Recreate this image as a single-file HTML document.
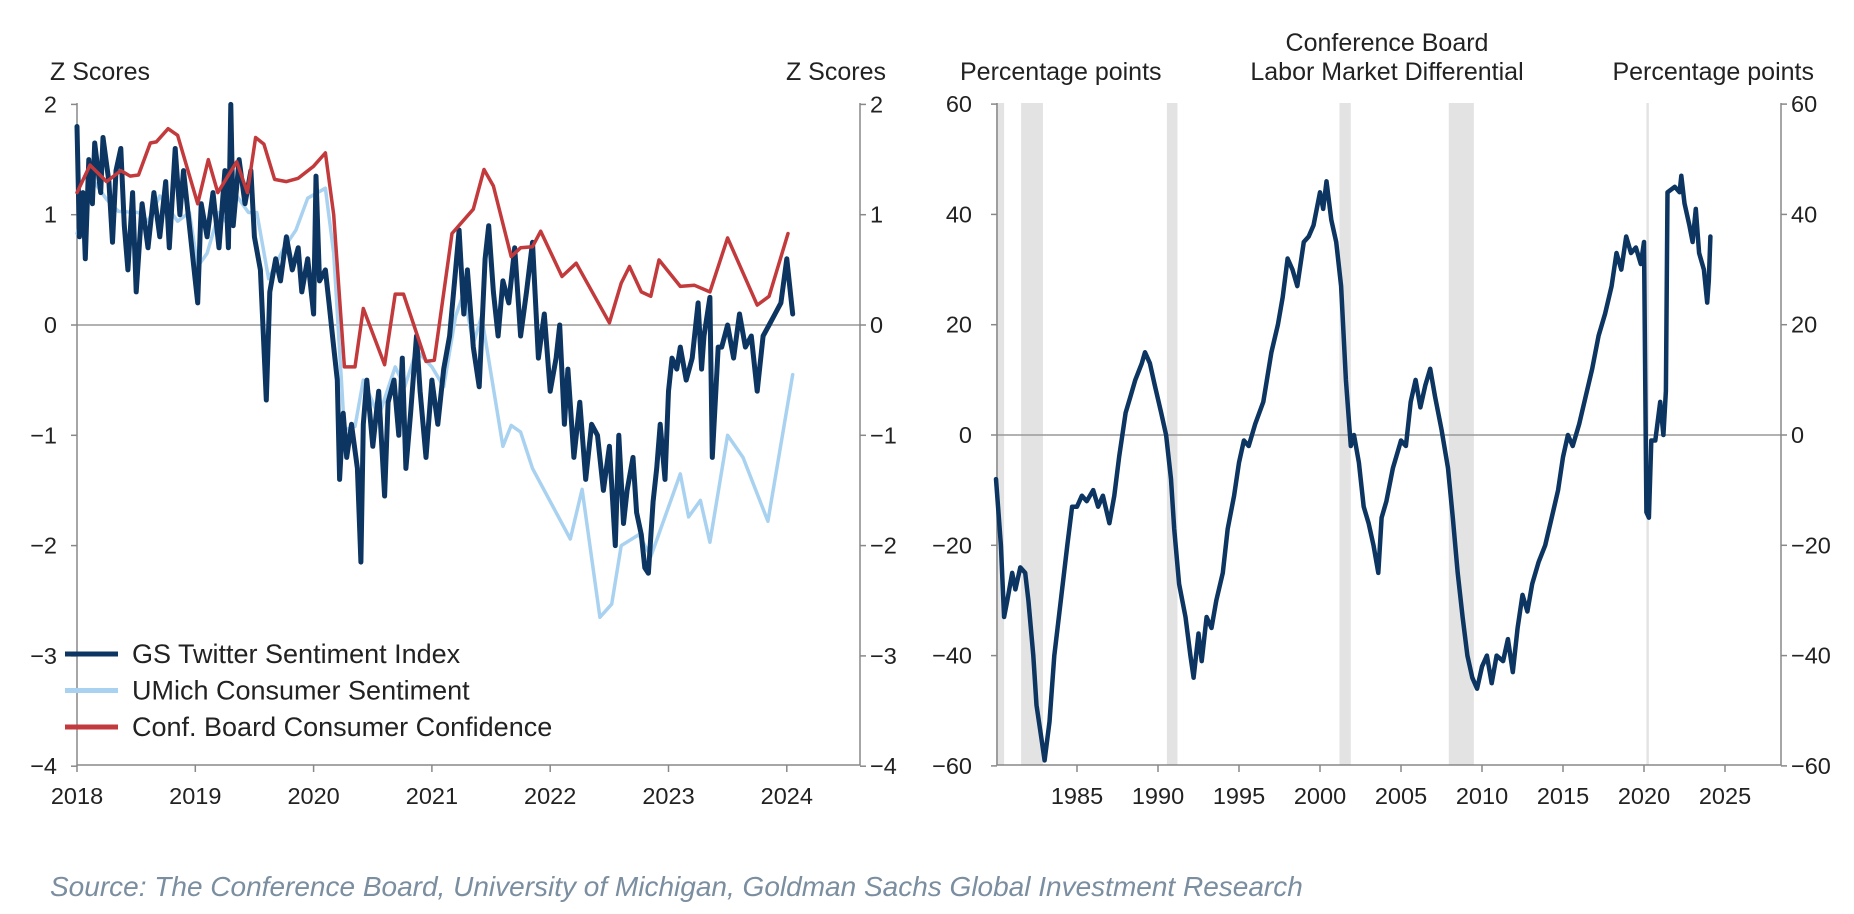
<!DOCTYPE html>
<html><head><meta charset="utf-8"><style>
html,body{margin:0;padding:0;background:#fff;}
svg{display:block;font-family:"Liberation Sans",Arial,sans-serif;}
</style></head><body>
<svg id="chart" width="1854" height="914" viewBox="0 0 1854 914" xmlns="http://www.w3.org/2000/svg">
<g id="left"></g>
<g id="right"></g>
<text x="50" y="896" font-size="28" font-style="italic" fill="#7a8ea0">Source: The Conference Board, University of Michigan, Goldman Sachs Global Investment Research</text>
</svg>
<script>
// ---------- Left chart data ----------
const leftYTicks = [2, 1, 0, -1, -2, -3, -4];
const leftXTicks = [2018, 2019, 2020, 2021, 2022, 2023, 2024];
const gsDates = [2018.0,2018.02,2018.05,2018.07,2018.1,2018.13,2018.15,2018.2,2018.22,2018.27,2018.3,2018.33,2018.37,2018.4,2018.43,2018.47,2018.5,2018.55,2018.6,2018.65,2018.7,2018.75,2018.78,2018.83,2018.87,2018.9,2018.95,2019.0,2019.02,2019.05,2019.1,2019.15,2019.2,2019.25,2019.28,2019.3,2019.32,2019.37,2019.42,2019.47,2019.5,2019.55,2019.6,2019.63,2019.68,2019.72,2019.77,2019.82,2019.87,2019.9,2019.95,2020.0,2020.02,2020.05,2020.1,2020.13,2020.17,2020.2,2020.22,2020.25,2020.28,2020.32,2020.37,2020.4,2020.42,2020.45,2020.5,2020.55,2020.6,2020.63,2020.68,2020.72,2020.75,2020.78,2020.82,2020.87,2020.9,2020.95,2021.0,2021.05,2021.1,2021.15,2021.2,2021.23,2021.27,2021.3,2021.35,2021.4,2021.45,2021.48,2021.52,2021.56,2021.6,2021.65,2021.7,2021.75,2021.8,2021.85,2021.9,2021.95,2022.0,2022.05,2022.08,2022.12,2022.15,2022.2,2022.25,2022.3,2022.35,2022.4,2022.45,2022.5,2022.55,2022.58,2022.62,2022.65,2022.7,2022.73,2022.77,2022.8,2022.83,2022.87,2022.9,2022.93,2022.97,2023.0,2023.03,2023.07,2023.1,2023.15,2023.2,2023.25,2023.28,2023.3,2023.35,2023.37,2023.42,2023.45,2023.5,2023.55,2023.6,2023.65,2023.7,2023.75,2023.8,2023.85,2023.9,2023.95,2024.0,2024.03,2024.05];
const gsValues = [1.8,0.8,1.2,0.6,1.5,1.1,1.65,1.2,1.7,1.3,0.75,1.4,1.6,0.9,0.5,1.2,0.3,1.1,0.7,1.2,0.8,1.3,0.7,1.6,1.0,1.4,0.9,0.4,0.2,1.1,0.8,1.2,0.7,1.4,0.7,2.0,0.9,1.5,1.1,1.4,0.8,0.5,-0.68,0.3,0.6,0.4,0.8,0.5,0.7,0.3,0.6,0.1,1.35,0.4,0.5,0.2,-0.2,-0.5,-1.4,-0.8,-1.2,-0.9,-1.3,-2.15,-0.9,-0.5,-1.1,-0.6,-1.55,-0.7,-0.5,-1.0,-0.3,-1.3,-0.8,-0.1,-0.6,-1.2,-0.5,-0.9,-0.4,-0.1,0.5,0.86,0.1,0.5,-0.2,-0.56,0.6,0.9,0.3,-0.1,0.4,0.2,0.7,-0.1,0.3,0.75,-0.3,0.1,-0.6,-0.3,0.0,-0.9,-0.4,-1.2,-0.7,-1.4,-0.9,-1.0,-1.5,-1.1,-2.0,-1.0,-1.8,-1.5,-1.2,-1.7,-1.9,-2.2,-2.25,-1.6,-1.3,-0.9,-1.4,-0.6,-0.3,-0.4,-0.2,-0.5,-0.3,0.2,-0.4,-0.1,0.25,-1.2,-0.2,-0.2,0.0,-0.3,0.1,-0.2,-0.1,-0.6,-0.1,0.0,0.1,0.2,0.6,0.3,0.1];
const umDates = [2018.0,2018.15,2018.25,2018.35,2018.52,2018.6,2018.7,2018.85,2018.95,2019.02,2019.1,2019.2,2019.27,2019.35,2019.45,2019.52,2019.62,2019.75,2019.85,2019.95,2020.1,2020.17,2020.26,2020.35,2020.42,2020.55,2020.69,2020.77,2020.87,2021.0,2021.1,2021.2,2021.27,2021.35,2021.42,2021.6,2021.67,2021.75,2021.85,2022.17,2022.27,2022.42,2022.52,2022.6,2022.75,2022.85,2023.1,2023.17,2023.27,2023.35,2023.5,2023.63,2023.84,2024.05];
const umValues = [0.83,1.29,1.14,1.03,1.02,0.94,1.17,0.94,1.02,0.53,0.65,1.02,0.92,1.17,1.02,1.02,0.42,0.7,0.86,1.15,1.24,0.65,-0.95,-0.92,-0.5,-0.83,-0.38,-0.56,-0.23,-0.38,-0.56,0.08,0.29,-0.17,0.08,-1.1,-0.91,-0.97,-1.3,-1.94,-1.49,-2.65,-2.53,-2.0,-1.9,-2.1,-1.35,-1.74,-1.59,-1.97,-1.0,-1.2,-1.78,-0.45];
const cbDates = [2018.0,2018.11,2018.25,2018.37,2018.45,2018.52,2018.62,2018.67,2018.77,2018.85,2019.02,2019.11,2019.19,2019.35,2019.44,2019.51,2019.58,2019.67,2019.77,2019.87,2020.0,2020.1,2020.17,2020.26,2020.35,2020.42,2020.6,2020.69,2020.76,2020.95,2021.02,2021.17,2021.35,2021.44,2021.52,2021.67,2021.75,2021.85,2021.92,2022.1,2022.22,2022.5,2022.6,2022.67,2022.77,2022.85,2022.92,2023.1,2023.22,2023.35,2023.5,2023.75,2023.85,2024.01];
const cbValues = [1.2,1.45,1.3,1.4,1.35,1.36,1.65,1.66,1.78,1.72,1.1,1.5,1.2,1.48,1.2,1.7,1.64,1.32,1.3,1.33,1.44,1.56,1.0,-0.38,-0.38,0.15,-0.36,0.28,0.28,-0.33,-0.32,0.83,1.05,1.41,1.26,0.62,0.7,0.71,0.85,0.44,0.56,0.02,0.38,0.53,0.3,0.26,0.59,0.35,0.36,0.3,0.79,0.18,0.26,0.83];
const legendLabels = ["GS Twitter Sentiment Index","UMich Consumer Sentiment","Conf. Board Consumer Confidence"];

// ---------- Right chart data ----------
const rightYTicks = [60, 40, 20, 0, -20, -40, -60];
const rightXTicks = [1985, 1990, 1995, 2000, 2005, 2010, 2015, 2020, 2025];
const recessionStarts = [1980.0, 1981.55, 1990.55, 2001.2, 2007.95, 2020.15];
const recessionEnds = [1980.5, 1982.9, 1991.2, 2001.9, 2009.5, 2020.3];
const lmDates = [1980.0,1980.3,1980.5,1980.7,1981.0,1981.2,1981.5,1981.8,1982.0,1982.3,1982.5,1982.8,1983.0,1983.3,1983.6,1984.0,1984.4,1984.7,1985.0,1985.3,1985.6,1986.0,1986.3,1986.6,1987.0,1987.3,1987.6,1988.0,1988.3,1988.6,1989.0,1989.2,1989.5,1989.8,1990.2,1990.5,1990.8,1991.0,1991.3,1991.7,1992.0,1992.2,1992.5,1992.7,1993.0,1993.3,1993.6,1994.0,1994.3,1994.7,1995.0,1995.3,1995.6,1996.0,1996.5,1997.0,1997.4,1997.7,1998.0,1998.3,1998.6,1999.0,1999.3,1999.6,2000.0,2000.2,2000.4,2000.7,2001.0,2001.3,2001.6,2001.9,2002.1,2002.4,2002.7,2003.0,2003.3,2003.6,2003.8,2004.1,2004.5,2004.8,2005.0,2005.3,2005.6,2005.9,2006.2,2006.5,2006.8,2007.1,2007.5,2007.9,2008.2,2008.5,2008.8,2009.1,2009.4,2009.7,2010.0,2010.3,2010.6,2010.9,2011.3,2011.6,2011.9,2012.2,2012.5,2012.8,2013.1,2013.5,2013.9,2014.3,2014.7,2015.0,2015.3,2015.6,2016.0,2016.4,2016.8,2017.2,2017.6,2018.0,2018.3,2018.6,2018.9,2019.2,2019.5,2019.8,2020.0,2020.15,2020.3,2020.45,2020.7,2021.0,2021.2,2021.35,2021.45,2021.9,2022.2,2022.3,2022.5,2022.8,2023.0,2023.2,2023.4,2023.7,2023.9,2024.0,2024.1];
const lmValues = [-8,-20,-33,-30,-25,-28,-24,-25,-30,-40,-49,-55,-59,-52,-40,-30,-20,-13,-13,-11,-12,-10,-13,-11,-16,-11,-4,4,7,10,13,15,13,9,4,0,-8,-17,-27,-33,-40,-44,-36,-41,-33,-35,-30,-25,-17,-11,-5,-1,-2,2,6,15,20,25,32,30,27,35,36,38,44,41,46,39,35,27,10,-2,0,-5,-13,-16,-20,-25,-15,-12,-6,-3,-1,-2,6,10,5,9,12,7,1,-6,-15,-25,-33,-40,-44,-46,-42,-40,-45,-40,-41,-37,-43,-35,-29,-32,-27,-23,-20,-15,-10,-4,0,-2,2,7,12,18,22,27,33,30,36,33,34,31,35,-14,-15,-1,-1,6,0,8,44,45,44,47,42,38,35,41,33,30,24,28,36];

const NS = "http://www.w3.org/2000/svg";
function mk(parent, tag, attrs, text){
  const el = document.createElementNS(NS, tag);
  for (const k in attrs) el.setAttribute(k, attrs[k]);
  if (text !== undefined) el.textContent = text;
  parent.appendChild(el);
  return el;
}
const FS = 23.5;

// ---------- Left chart ----------
const L = document.getElementById('left');
const lx0 = 77, lx1 = 860, ly0 = 103, ly1 = 765;
const lxs = yr => lx0 + (yr - 2018) * 118.3;
const lys = v => 325 - v * 110.3;

let t = mk(L,'text',{x:50,y:80,'font-size':25,fill:'#222'},'Z Scores');


t = mk(L,'text',{x:886,y:80,'font-size':25,fill:'#222','text-anchor':'end'},'Z Scores');



let zl = mk(L,'line',{x1:lx0,x2:lx1,y1:lys(0),y2:lys(0),stroke:'#999','stroke-width':1.5});



let ax = mk(L,'path',{d:`M${lx0},${ly0} V${ly1} H${lx1} V${ly0}`,fill:'none',stroke:'#888','stroke-width':1.5});



leftYTicks.forEach(v=>{
  const y = lys(v);
  mk(L,'line',{x1:lx0-6,x2:lx0,y1:y,y2:y,stroke:'#888','stroke-width':1.5});
  mk(L,'line',{x1:lx1,x2:lx1+6,y1:y,y2:y,stroke:'#888','stroke-width':1.5});
  const lab = v<0 ? '\u2212'+Math.abs(v) : String(v);
  const a = mk(L,'text',{x:lx0-20,y:y+8,'font-size':FS,fill:'#222','text-anchor':'end'},lab);
  
  
  const b = mk(L,'text',{x:lx1+10,y:y+8,'font-size':FS,fill:'#222'},lab);
  
  
});
leftXTicks.forEach(yr=>{
  const x = lxs(yr);
  mk(L,'line',{x1:x,x2:x,y1:ly1,y2:ly1+7,stroke:'#888','stroke-width':1.5});
  const a = mk(L,'text',{x:x,y:804,'font-size':FS,fill:'#222','text-anchor':'middle'},String(yr));
  
  
});

function line(parent, xs, ys, dates, vals, color, w, name){
  const d = dates.map((dt,i)=>(i?'L':'M')+xs(dt).toFixed(1)+','+ys(vals[i]).toFixed(1)).join(' ');
  const p = mk(parent,'path',{d:d,fill:'none',stroke:color,'stroke-width':w,'stroke-linejoin':'round','stroke-linecap':'round'});
  
  
}
line(L,lxs,lys,umDates,umValues,'#a9d2f0',3.5,'umich-line');
line(L,lxs,lys,gsDates,gsValues,'#0d3561',5,'gs-twitter-line');
line(L,lxs,lys,cbDates,cbValues,'#c23a3c',3.5,'conf-board-line');

const legColors = ['#0d3561','#a9d2f0','#c23a3c'];
legendLabels.forEach((lab,i)=>{
  const y = 654 + i*36.5;
  const g = mk(L,'g',{});
  
  
  mk(g,'line',{x1:65,x2:118,y1:y,y2:y,stroke:legColors[i],'stroke-width':5});
  mk(g,'text',{x:132,y:y+9,'font-size':27,fill:'#222'},lab);
});

// ---------- Right chart ----------
const R = document.getElementById('right');
const rx0 = 997, rx1 = 1781, ry0 = 103, ry1 = 765;
const rxs = yr => 1077 + (yr - 1985) * 16.2;
const rys = v => 435 - v * 5.515;

recessionStarts.forEach((s,i)=>{
  const r = mk(R,'rect',{x:rxs(s),y:ry0,width:Math.max(rxs(recessionEnds[i])-rxs(s),2),height:ry1-ry0,fill:'#e3e3e3'});
  
  
});

t = mk(R,'text',{x:960,y:80,'font-size':25,fill:'#222'},'Percentage points');


t = mk(R,'text',{x:1814,y:80,'font-size':25,fill:'#222','text-anchor':'end'},'Percentage points');


t = mk(R,'text',{x:1387,y:51,'font-size':25,fill:'#222','text-anchor':'middle'},'Conference Board');


t = mk(R,'text',{x:1387,y:80,'font-size':25,fill:'#222','text-anchor':'middle'},'Labor Market Differential');



zl = mk(R,'line',{x1:rx0,x2:rx1,y1:rys(0),y2:rys(0),stroke:'#999','stroke-width':1.5});


ax = mk(R,'path',{d:`M${rx0},${ry0} V${ry1} H${rx1} V${ry0}`,fill:'none',stroke:'#888','stroke-width':1.5});



rightYTicks.forEach(v=>{
  const y = rys(v);
  mk(R,'line',{x1:rx0-6,x2:rx0,y1:y,y2:y,stroke:'#888','stroke-width':1.5});
  mk(R,'line',{x1:rx1,x2:rx1+6,y1:y,y2:y,stroke:'#888','stroke-width':1.5});
  const lab = v<0 ? '\u2212'+Math.abs(v) : String(v);
  const a = mk(R,'text',{x:rx0-25,y:y+8,'font-size':FS,fill:'#222','text-anchor':'end'},lab);
  
  
  const b = mk(R,'text',{x:rx1+10,y:y+8,'font-size':FS,fill:'#222'},lab);
  
  
});
rightXTicks.forEach(yr=>{
  const x = rxs(yr);
  mk(R,'line',{x1:x,x2:x,y1:ry1,y2:ry1+7,stroke:'#888','stroke-width':1.5});
  const a = mk(R,'text',{x:x,y:804,'font-size':FS,fill:'#222','text-anchor':'middle'},String(yr));
  
  
});
line(R,rxs,rys,lmDates,lmValues,'#0d3561',4.5,'labor-differential-line');
</script>
</body></html>
